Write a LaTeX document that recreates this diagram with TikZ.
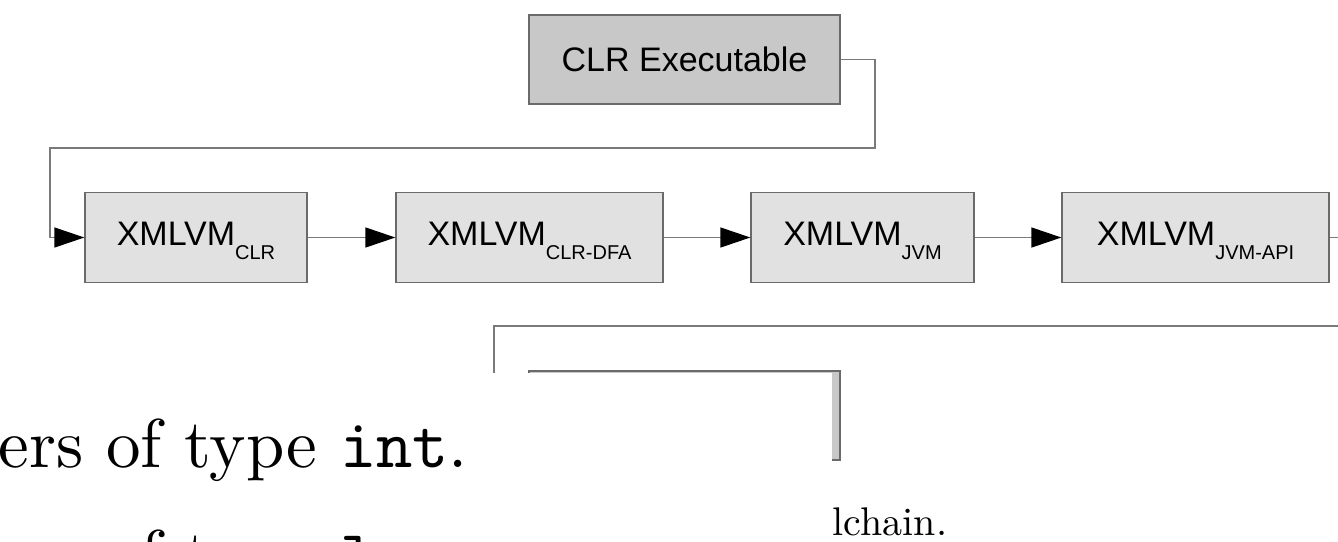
\documentclass[tikz,border=0pt]{standalone}
\usepackage{fontspec}
\usetikzlibrary{arrows.meta}
\newfontfamily\arialfont{Liberation Sans}

\definecolor{boxline}{HTML}{6A6A6A}
\definecolor{wireclr}{HTML}{7A7A7A}
\definecolor{exefill}{HTML}{C8C8C8}
\definecolor{vmfill}{HTML}{E1E1E1}

% subscript of an XMLVM stage name
\newcommand\vmsub[1]{{\fontsize{20}{24}\selectfont\raisebox{-14pt}{#1}}}

\tikzset{
  exebox/.style={draw=boxline, fill=exefill, line width=1.3pt, inner sep=0pt,
    minimum width=311pt, minimum height=89pt,
    font=\arialfont\fontsize{34}{40}\selectfont, text height=24pt, text depth=1pt},
  vmbox/.style={draw=boxline, fill=vmfill, line width=1.3pt, inner sep=0pt,
    minimum height=89.5pt,
    font=\arialfont\fontsize{34}{40}\selectfont, text height=25pt, text depth=10pt},
  wire/.style={draw=wireclr, line width=1.4pt},
  flow/.style={wire, -{Triangle[length=30pt,width=20pt,color=black]}},
  prose/.style={anchor=base west, inner sep=0pt, font=\fontsize{10}{12}\selectfont}
}

\begin{document}
\begin{tikzpicture}[x=1pt,y=-1pt]
  \useasboundingbox (0,0) rectangle (1338,541);
  \clip (0,0) rectangle (1338,541);
  \fill[white] (0,0) rectangle (1338,541);

  % toolchain stages
  \node[exebox] (exe) at (684.5,59.5) {CLR Executable};
  \node[vmbox, minimum width=222pt] (clr) at (196,237.5)    {XMLVM\vmsub{CLR}};
  \node[vmbox, minimum width=267pt] (dfa) at (529.5,237.5)  {XMLVM\vmsub{CLR-DFA}};
  \node[vmbox, minimum width=223pt] (jvm) at (862.5,237.5)  {XMLVM\vmsub{JVM}};
  \node[vmbox, minimum width=267pt] (api) at (1195.5,237.5) {XMLVM\vmsub{JVM-API}};

  \coordinate (exeR) at (875,59.5);
  \coordinate (exeD) at (875,148);
  \coordinate (clrU) at (50,148);
  \coordinate (clrL) at (50,237.5);
  \coordinate (apiOut) at (1350,237.5);

  \draw[flow] (exe.east) -- (exeR) -- (exeD) -- (clrU) -- (clrL) -- (clr.west);
  \draw[flow] (clr) -- (dfa);
  \draw[flow] (dfa) -- (jvm);
  \draw[flow] (jvm) -- (api);
  \draw[wire] (api.east) -- (apiOut);

  % second copy of the chain, partly covered by the page below
  \node[exebox] (exe2) at (684.5,415.5) {};
  \coordinate (backR) at (1350,326);
  \coordinate (backC) at (494,326);
  \coordinate (backD) at (494,400);
  \draw[wire] (backR) -- (backC) -- (backD);

  % page of text lying on top
  \fill[white] (-5,372.6) rectangle (832,560);

  \node[prose, scale=6.9] (line1) at (-3,467) {ers of type \texttt{int}.};
  \node[prose, scale=6.9] (line2) at (-3,578) {\phantom{ers }of type \texttt{long}.};
  \node[prose, scale=4] (line3) at (832,535) {lchain.};
\end{tikzpicture}
\end{document}
